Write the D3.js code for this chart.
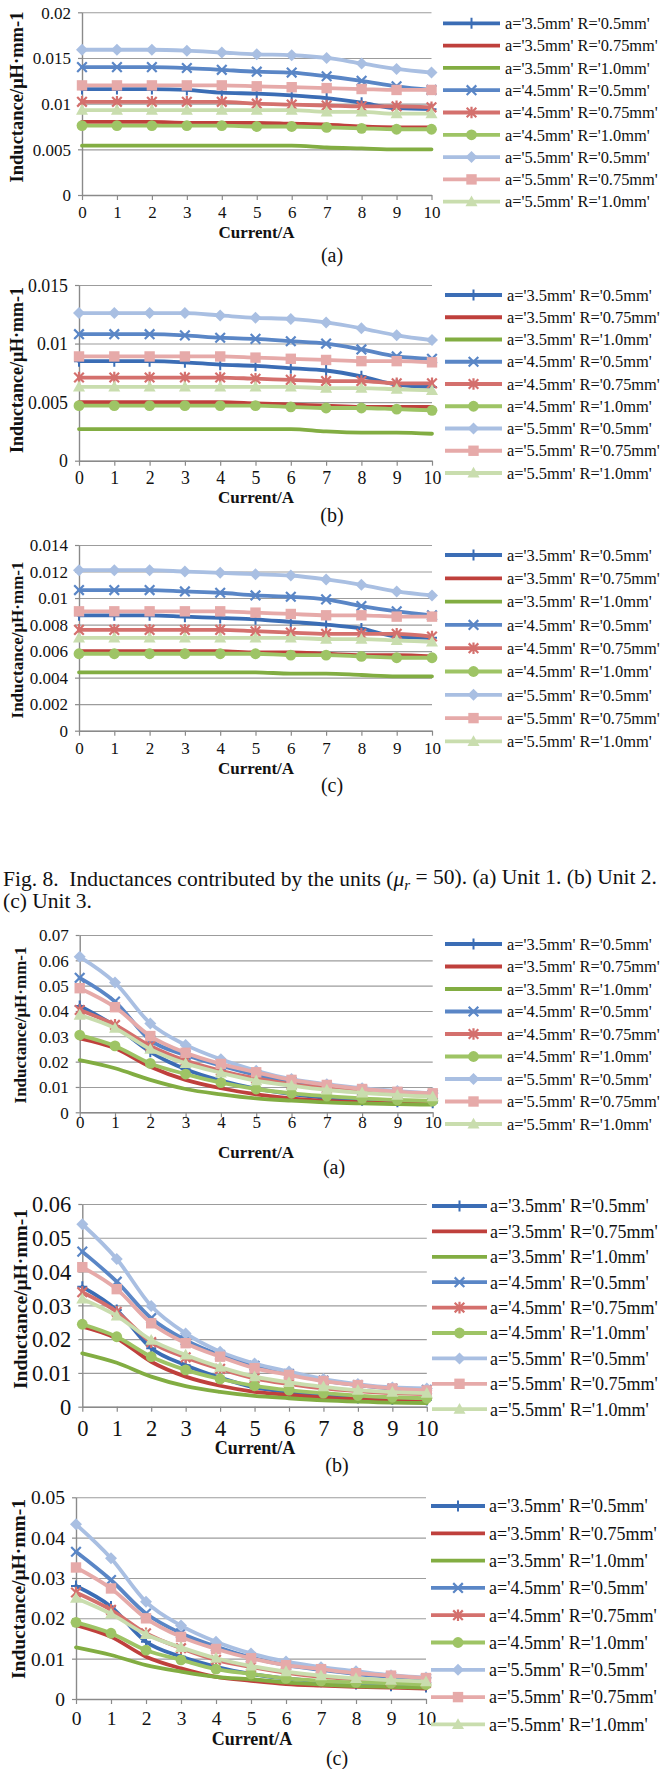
<!DOCTYPE html>
<html>
<head>
<meta charset="utf-8">
<script src="https://cdn.jsdelivr.net/npm/d3@7"></script>
<style>
  html, body { margin: 0; padding: 0; background: #fff; overflow: hidden; }
  text { font-family: "Liberation Serif", "Times New Roman", serif; fill: #111; }
</style>
</head>
<body>
<svg id="fig" width="664" height="1769"></svg>
<script>
// ---- data -------------------------------------------------------------
const currents = [0, 1, 2, 3, 4, 5, 6, 7, 8, 9, 10];

const seriesLabels = [
  "a='3.5mm' R='0.5mm'", "a='3.5mm' R='0.75mm'", "a='3.5mm' R='1.0mm'",
  "a='4.5mm' R='0.5mm'", "a='4.5mm' R='0.75mm'", "a='4.5mm' R='1.0mm'",
  "a='5.5mm' R='0.5mm'", "a='5.5mm' R='0.75mm'", "a='5.5mm' R='1.0mm'"
];

const subLabels = ["(a)", "(b)", "(c)", "(a)", "(b)", "(c)"];

const yTicksA = [0, 0.005, 0.01, 0.015, 0.02];
const yTicksB = [0, 0.005, 0.01, 0.015];
const yTicksC = [0, 0.002, 0.004, 0.006, 0.008, 0.01, 0.012, 0.014];
const yTicksD = [0, 0.01, 0.02, 0.03, 0.04, 0.05, 0.06, 0.07];
const yTicksE = [0, 0.01, 0.02, 0.03, 0.04, 0.05, 0.06];
const yTicksF = [0, 0.01, 0.02, 0.03, 0.04, 0.05];

// Fig. 8, unit 1 (mu_r = 50)
const fig8Unit1 = [
  [0.0116,0.0116,0.0116,0.0115,0.0112,0.0111,0.0109,0.0106,0.0101,0.0095,0.0094],
  [0.0080,0.0080,0.0080,0.0079,0.0079,0.0079,0.0078,0.0077,0.0075,0.0074,0.0074],
  [0.0054,0.0054,0.0054,0.0054,0.0054,0.0054,0.0054,0.0052,0.0051,0.0050,0.0050],
  [0.0140,0.0140,0.0140,0.0139,0.0137,0.0135,0.0134,0.0130,0.0125,0.0119,0.0115],
  [0.0102,0.0102,0.0102,0.0102,0.0102,0.0100,0.0099,0.0098,0.0097,0.0097,0.0096],
  [0.0076,0.0076,0.0076,0.0076,0.0076,0.0075,0.0075,0.0074,0.0073,0.0072,0.0072],
  [0.0159,0.0159,0.0159,0.0158,0.0156,0.0154,0.0153,0.0150,0.0144,0.0138,0.0134],
  [0.0120,0.0120,0.0120,0.0120,0.0120,0.0119,0.0118,0.0117,0.0116,0.0115,0.0115],
  [0.0093,0.0093,0.0093,0.0093,0.0093,0.0093,0.0093,0.0091,0.0091,0.0089,0.0089]
];
// Fig. 8, unit 2
const fig8Unit2 = [
  [0.0085,0.0085,0.0085,0.0084,0.0082,0.0081,0.0079,0.0077,0.0072,0.0065,0.0063],
  [0.0050,0.0050,0.0050,0.0050,0.0050,0.0049,0.0048,0.0047,0.0046,0.0046,0.0046],
  [0.0027,0.0027,0.0027,0.0027,0.0027,0.0027,0.0027,0.0025,0.0024,0.0024,0.0023],
  [0.0108,0.0108,0.0108,0.0107,0.0105,0.0104,0.0102,0.0100,0.0095,0.0089,0.0087],
  [0.0071,0.0071,0.0071,0.0071,0.0071,0.0070,0.0069,0.0068,0.0068,0.0066,0.0066],
  [0.0047,0.0047,0.0047,0.0047,0.0047,0.0047,0.0046,0.0045,0.0045,0.0044,0.0043],
  [0.0126,0.0126,0.0126,0.0126,0.0124,0.0122,0.0121,0.0118,0.0113,0.0107,0.0103],
  [0.0089,0.0089,0.0089,0.0089,0.0089,0.0088,0.0087,0.0086,0.0085,0.0085,0.0084],
  [0.0063,0.0063,0.0063,0.0063,0.0063,0.0063,0.0063,0.0062,0.0062,0.0061,0.0060]
];
// Fig. 8, unit 3
const fig8Unit3 = [
  [0.0087,0.0087,0.0087,0.0086,0.0085,0.0084,0.0082,0.0080,0.0077,0.0071,0.0070],
  [0.0060,0.0060,0.0060,0.0060,0.0060,0.0059,0.0059,0.0058,0.0057,0.0057,0.0056],
  [0.0044,0.0044,0.0044,0.0044,0.0044,0.0044,0.0043,0.0043,0.0042,0.0041,0.0041],
  [0.0106,0.0106,0.0106,0.0105,0.0104,0.0102,0.0101,0.0099,0.0094,0.0090,0.0087],
  [0.0076,0.0076,0.0076,0.0076,0.0076,0.0075,0.0074,0.0073,0.0073,0.0073,0.0071],
  [0.0058,0.0058,0.0058,0.0058,0.0058,0.0058,0.0057,0.0057,0.0056,0.0055,0.0055],
  [0.0121,0.0121,0.0121,0.0120,0.0119,0.0118,0.0117,0.0114,0.0110,0.0105,0.0102],
  [0.0090,0.0090,0.0090,0.0090,0.0090,0.0089,0.0088,0.0087,0.0087,0.0086,0.0086],
  [0.0070,0.0070,0.0070,0.0070,0.0070,0.0070,0.0070,0.0069,0.0069,0.0068,0.0067]
];
// Fig. 9, unit 1
const fig9Unit1 = [
  [0.0420,0.0341,0.0239,0.0170,0.0125,0.0093,0.0072,0.0057,0.0048,0.0042,0.0038],
  [0.0292,0.0253,0.0180,0.0128,0.0095,0.0071,0.0055,0.0045,0.0039,0.0035,0.0032],
  [0.0206,0.0174,0.0128,0.0092,0.0071,0.0055,0.0046,0.0039,0.0035,0.0032,0.0030],
  [0.0531,0.0437,0.0285,0.0226,0.0184,0.0147,0.0121,0.0101,0.0088,0.0077,0.0070],
  [0.0404,0.0345,0.0262,0.0204,0.0164,0.0134,0.0111,0.0095,0.0081,0.0071,0.0063],
  [0.0305,0.0262,0.0193,0.0151,0.0117,0.0092,0.0075,0.0064,0.0055,0.0049,0.0045],
  [0.0614,0.0512,0.0351,0.0266,0.0209,0.0164,0.0131,0.0111,0.0095,0.0084,0.0075],
  [0.0490,0.0415,0.0301,0.0235,0.0191,0.0158,0.0128,0.0108,0.0092,0.0081,0.0075],
  [0.0384,0.0332,0.0249,0.0193,0.0156,0.0125,0.0105,0.0088,0.0077,0.0068,0.0062]
];
// Fig. 9, unit 2
const fig9Unit2 = [
  [0.0355,0.0286,0.0173,0.0123,0.0086,0.0057,0.0043,0.0032,0.0026,0.0022,0.0020],
  [0.0237,0.0202,0.0133,0.0089,0.0062,0.0044,0.0035,0.0027,0.0022,0.0018,0.0016],
  [0.0158,0.0130,0.0089,0.0061,0.0044,0.0032,0.0025,0.0019,0.0015,0.0012,0.0011],
  [0.0459,0.0370,0.0262,0.0197,0.0153,0.0121,0.0097,0.0077,0.0064,0.0054,0.0050],
  [0.0339,0.0281,0.0191,0.0146,0.0112,0.0084,0.0067,0.0054,0.0046,0.0040,0.0037],
  [0.0244,0.0207,0.0148,0.0109,0.0082,0.0062,0.0049,0.0040,0.0033,0.0028,0.0025],
  [0.0540,0.0437,0.0298,0.0217,0.0163,0.0128,0.0104,0.0082,0.0067,0.0057,0.0054],
  [0.0413,0.0348,0.0247,0.0188,0.0148,0.0114,0.0094,0.0076,0.0064,0.0054,0.0048],
  [0.0319,0.0269,0.0197,0.0153,0.0117,0.0089,0.0072,0.0059,0.0049,0.0043,0.0040]
];
// Fig. 9, unit 3
const fig9Unit3 = [
  [0.0280,0.0229,0.0142,0.0105,0.0080,0.0062,0.0051,0.0043,0.0037,0.0033,0.0030],
  [0.0183,0.0154,0.0105,0.0076,0.0055,0.0045,0.0037,0.0033,0.0030,0.0028,0.0026],
  [0.0128,0.0109,0.0084,0.0068,0.0055,0.0049,0.0041,0.0036,0.0032,0.0030,0.0028],
  [0.0365,0.0295,0.0212,0.0163,0.0130,0.0103,0.0084,0.0072,0.0062,0.0055,0.0050],
  [0.0264,0.0221,0.0163,0.0126,0.0097,0.0079,0.0065,0.0055,0.0049,0.0043,0.0040],
  [0.0190,0.0163,0.0121,0.0097,0.0074,0.0062,0.0051,0.0045,0.0041,0.0039,0.0036],
  [0.0433,0.0349,0.0241,0.0182,0.0142,0.0113,0.0093,0.0079,0.0069,0.0059,0.0053],
  [0.0326,0.0274,0.0200,0.0154,0.0124,0.0101,0.0084,0.0074,0.0064,0.0058,0.0052],
  [0.0250,0.0211,0.0160,0.0128,0.0101,0.0082,0.0068,0.0058,0.0051,0.0047,0.0043]
];

// ---- styles -----------------------------------------------------------
const seriesColors = ["#3b6db5", "#bf403c", "#82ad42", "#5a86c6", "#d4706d",
                      "#9ec465", "#a9bfe2", "#e6aaa9", "#c9ddae"];
const seriesMarkers = ["plus", "none", "none", "cross", "star", "circle",
                       "diamond", "square", "triangle"];

// panel geometry (pixels)
const panels = [
  { data: fig8Unit1, ticks: yTicksA, x0: 82, x10: 431.5, yTop: 12.3, yBot: 195,
    tickFs: 17, xLabY: 212, xt: [256.5, 232, 17], yt: [17, 97, 18.5], sub: [332, 255],
    leg: { x1: 443, x2: 500, tx: 505, y0: 23.3, dy: 22.3, fs: 16.4 } },
  { data: fig8Unit2, ticks: yTicksB, x0: 79, x10: 432, yTop: 285, yBot: 460.7,
    tickFs: 17.8, xLabY: 478, xt: [256, 497, 17], yt: [17, 370, 18], sub: [332, 515],
    leg: { x1: 445, x2: 502, tx: 507, y0: 295, dy: 22.25, fs: 16.4 } },
  { data: fig8Unit3, ticks: yTicksC, x0: 79, x10: 432, yTop: 545, yBot: 730.7,
    tickFs: 17, xLabY: 748, xt: [256, 768, 17], yt: [17, 640, 17], sub: [332, 785],
    leg: { x1: 445, x2: 502, tx: 507, y0: 555, dy: 23.3, fs: 16.4 } },
  { data: fig9Unit1, ticks: yTicksD, x0: 79.7, x10: 432.7, yTop: 935, yBot: 1112.3,
    tickFs: 17, xLabY: 1122, xt: [256, 1151.7, 17], yt: [20, 1025, 17], sub: [334, 1167],
    leg: { x1: 445, x2: 502, tx: 507, y0: 944, dy: 22.5, fs: 16.4 } },
  { data: fig9Unit2, ticks: yTicksE, x0: 82.3, x10: 426.8, yTop: 1204, yBot: 1406.7,
    tickFs: 22.5, xLabY: 1428, xt: [255, 1448, 18], yt: [20, 1299, 19.5], sub: [337, 1465],
    leg: { x1: 432, x2: 487, tx: 490, y0: 1206, dy: 25.4, fs: 18 } },
  { data: fig9Unit3, ticks: yTicksF, x0: 76, x10: 426, yTop: 1497.3, yBot: 1699,
    tickFs: 19.5, xLabY: 1718.3, xt: [252, 1738.3, 18], yt: [18, 1589, 19.5], sub: [337, 1758],
    leg: { x1: 431, x2: 485, tx: 489, y0: 1506, dy: 27.3, fs: 18 } }
];

const gridColor = "#9c9c9c";
const axisColor = "#8a8a8a";

// ---- drawing ----------------------------------------------------------
const svg = d3.select("#fig");
svg.append("rect").attr("width", 664).attr("height", 1769).attr("fill", "#fff");

function drawMarker(g, type, color, cx, cy) {
  const s = 4.8;
  if (type === "none") return;
  if (type === "plus") {
    g.append("path").attr("d", `M${cx},${cy - 5.5}V${cy + 5.5}M${cx - 5},${cy}H${cx + 5}`)
      .attr("stroke", color).attr("stroke-width", 2).attr("fill", "none");
  } else if (type === "cross") {
    g.append("path").attr("d", `M${cx - s},${cy - s}L${cx + s},${cy + s}M${cx - s},${cy + s}L${cx + s},${cy - s}`)
      .attr("stroke", color).attr("stroke-width", 2.2).attr("fill", "none");
  } else if (type === "star") {
    g.append("path").attr("d", `M${cx - s},${cy - s}L${cx + s},${cy + s}M${cx - s},${cy + s}L${cx + s},${cy - s}M${cx},${cy - s - 1}V${cy + s + 1}`)
      .attr("stroke", color).attr("stroke-width", 2.2).attr("fill", "none");
  } else if (type === "circle") {
    g.append("circle").attr("cx", cx).attr("cy", cy).attr("r", 5.4).attr("fill", color);
  } else if (type === "diamond") {
    g.append("path").attr("d", `M${cx},${cy - 6}L${cx + 6},${cy}L${cx},${cy + 6}L${cx - 6},${cy}Z`).attr("fill", color);
  } else if (type === "square") {
    g.append("rect").attr("x", cx - 5.2).attr("y", cy - 5.2).attr("width", 10.4).attr("height", 10.4).attr("fill", color);
  } else if (type === "triangle") {
    g.append("path").attr("d", `M${cx},${cy - 6.2}L${cx + 6},${cy + 4.6}L${cx - 6},${cy + 4.6}Z`).attr("fill", color);
  }
}

panels.forEach((p, pi) => {
  const g = svg.append("g");
  const x = d3.scaleLinear().domain([0, 10]).range([p.x0, p.x10]);
  const yMax = p.ticks[p.ticks.length - 1];
  const y = d3.scaleLinear().domain([0, yMax]).range([p.yBot, p.yTop]);

  // horizontal gridlines
  g.append("g").attr("transform", `translate(${p.x0},0)`)
    .call(d3.axisLeft(y).tickValues(p.ticks).tickSize(-(p.x10 - p.x0)).tickFormat(""))
    .call(a => a.select(".domain").remove())
    .call(a => a.selectAll("line").attr("stroke", gridColor).attr("stroke-width", 1.1));

  // y axis
  const ya = g.append("g").attr("transform", `translate(${p.x0},0)`)
    .call(d3.axisLeft(y).tickValues(p.ticks).tickSize(4).tickSizeOuter(0).tickPadding(7)
      .tickFormat(v => String(v)));
  ya.select(".domain").attr("stroke", axisColor).attr("stroke-width", 1.4);
  ya.selectAll("line").attr("stroke", axisColor).attr("stroke-width", 1.2);
  ya.selectAll("text").attr("font-size", p.tickFs).attr("font-family", "Liberation Serif")
    .attr("fill", "#111").attr("dy", "0.34em");

  // x axis
  const xa = g.append("g").attr("transform", `translate(0,${p.yBot})`)
    .call(d3.axisBottom(x).tickValues(currents).tickSize(5).tickSizeOuter(0).tickFormat(d3.format("d")));
  xa.select(".domain").attr("stroke", axisColor).attr("stroke-width", 1.4);
  xa.selectAll("line").attr("stroke", axisColor).attr("stroke-width", 1.2);
  xa.selectAll("text").attr("font-size", p.tickFs).attr("font-family", "Liberation Serif")
    .attr("fill", "#111").attr("y", p.xLabY - p.yBot).attr("dy", "0.35em");

  // axis titles
  g.append("text").attr("x", p.xt[0]).attr("y", p.xt[1]).attr("dy", "0.35em")
    .attr("text-anchor", "middle").attr("font-weight", "bold").attr("font-size", p.xt[2])
    .text("Current/A");
  g.append("text").attr("transform", `translate(${p.yt[0]},${p.yt[1]}) rotate(-90)`)
    .attr("dy", "0.35em").attr("text-anchor", "middle").attr("font-weight", "bold")
    .attr("font-size", p.yt[2]).text("Inductance/μH·mm-1");

  // sub-figure label
  g.append("text").attr("x", p.sub[0]).attr("y", p.sub[1]).attr("dy", "0.35em")
    .attr("text-anchor", "middle").attr("font-size", 20).text(subLabels[pi]);

  // series lines and markers
  const line = d3.line().x((d, i) => x(currents[i])).y(d => y(d)).curve(d3.curveMonotoneX);
  p.data.forEach((vals, si) => {
    const sg = g.append("g");
    sg.append("path").attr("d", line(vals)).attr("fill", "none")
      .attr("stroke", seriesColors[si]).attr("stroke-width", 3.8)
      .attr("stroke-linejoin", "round").attr("stroke-linecap", "round");
    vals.forEach((v, i) => drawMarker(sg, seriesMarkers[si], seriesColors[si], x(currents[i]), y(v)));
  });

  // legend
  const L = p.leg;
  seriesLabels.forEach((lab, si) => {
    const ly = L.y0 + si * L.dy;
    const lg = g.append("g");
    lg.append("line").attr("x1", L.x1).attr("x2", L.x2).attr("y1", ly).attr("y2", ly)
      .attr("stroke", seriesColors[si]).attr("stroke-width", 3.8);
    drawMarker(lg, seriesMarkers[si], seriesColors[si], (L.x1 + L.x2) / 2, ly);
    lg.append("text").attr("x", L.tx).attr("y", ly).attr("dy", "0.35em")
      .attr("font-size", L.fs).text(lab);
  });
});

// caption between the two figures
const cap = svg.append("text").attr("x", 3).attr("y", 878).attr("dy", "0.35em").attr("font-size", 21.5);
cap.append("tspan").text("Fig. 8.\u00a0\u00a0Inductances contributed by the units ");
cap.append("tspan").text("(");
cap.append("tspan").attr("font-style", "italic").text("μ");
cap.append("tspan").attr("font-style", "italic").attr("font-size", 15).attr("dy", "0.3em").text("r");
cap.append("tspan").attr("dy", "-0.3em").text(" = 50). (a) Unit 1. (b) Unit 2.");
svg.append("text").attr("x", 3).attr("y", 900).attr("dy", "0.35em").attr("font-size", 21.5)
  .text("(c) Unit 3.");
</script>
</body>
</html>
